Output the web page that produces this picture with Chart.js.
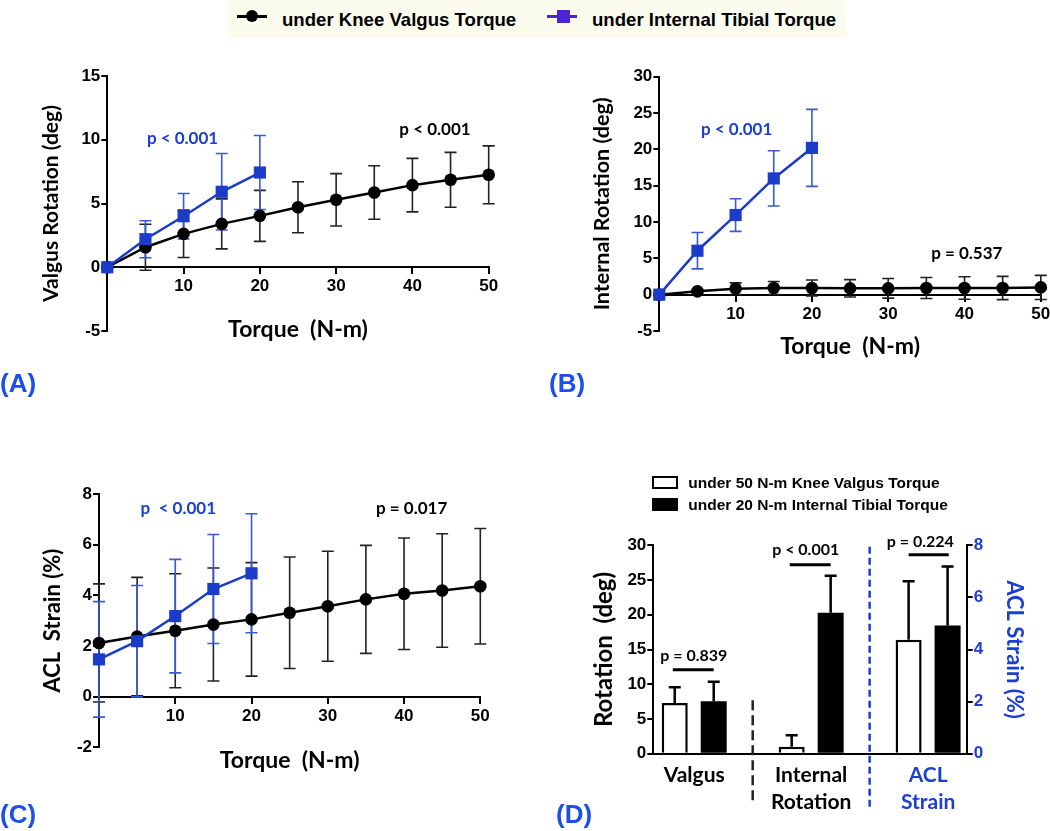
<!DOCTYPE html>
<html>
<head>
<meta charset="utf-8">
<script src="https://cdn.jsdelivr.net/npm/chart.js@4.4.1/dist/chart.umd.min.js"></script>
<style>
  body { margin: 0; background: #fff; }
  #page { position: relative; width: 1050px; height: 831px; overflow: hidden; }
  #page canvas { position: absolute; left: 0; top: 0; }
  .tag { position: absolute; font: bold 26px "Liberation Sans", Arial, sans-serif; line-height: 26px; color: #1a4fec; }
  .lg { position: absolute; font: bold 18.6px "Liberation Sans", Arial, sans-serif; line-height: 18px; color: #000; white-space: pre; }
  .lgD { position: absolute; font: bold 15.5px "Liberation Sans", Arial, sans-serif; line-height: 15px; color: #000; white-space: pre; }
  .blk { position: absolute; }
</style>
</head>
<body>
<div id="page">
  <canvas id="cA" width="1100" height="831"></canvas>
  <canvas id="cB" width="1100" height="831"></canvas>
  <canvas id="cC" width="1100" height="831"></canvas>
  <canvas id="cD" width="1100" height="831"></canvas>

  <!-- top legend -->
  <div class="blk" style="left:228px;top:0;width:618px;height:38px;background:#fbfbee;"></div>
  <div class="blk" style="left:237px;top:14.5px;width:30px;height:3px;background:#000;"></div>
  <div class="blk" style="left:245.7px;top:10px;width:12px;height:12px;border-radius:50%;background:#000;"></div>
  <div class="lg" style="left:282px;top:10.5px;">under Knee Valgus Torque</div>
  <div class="blk" style="left:547px;top:14.5px;width:30px;height:3px;background:#4b24d4;"></div>
  <div class="blk" style="left:557px;top:9.5px;width:13px;height:13px;background:#4b24d4;"></div>
  <div class="lg" style="left:592px;top:10.5px;">under Internal Tibial Torque</div>

  <!-- panel D legend -->
  <div class="blk" style="left:652px;top:476px;width:26px;height:12.5px;border:2.5px solid #000;box-sizing:border-box;background:#fff;"></div>
  <div class="lgD" style="left:688.3px;top:475.2px;">under 50 N-m Knee Valgus Torque</div>
  <div class="blk" style="left:652px;top:498px;width:26px;height:13px;background:#000;"></div>
  <div class="lgD" style="left:688.3px;top:496.9px;">under 20 N-m Internal Tibial Torque</div>

  <!-- panel tags -->
  <div class="tag" style="left:0;top:369.5px;">(A)</div>
  <div class="tag" style="left:549px;top:369.5px;">(B)</div>
  <div class="tag" style="left:0;top:800.8px;">(C)</div>
  <div class="tag" style="left:556px;top:800.8px;">(D)</div>
</div>
<script>
// ---- data ----
const torqueKV = [0, 5, 10, 15, 20, 25, 30, 35, 40, 45, 50];  // N-m, knee valgus loading
const torqueIT = [0, 5, 10, 15, 20];                           // N-m, internal tibial loading

// (A) valgus rotation (deg)
const valgusUnderKV   = [0, 1.57, 2.62, 3.40, 4.03, 4.71, 5.29, 5.86, 6.44, 6.86, 7.25];
const valgusUnderKVsd = [0, 1.80, 1.86, 1.96, 2.00, 2.00, 2.05, 2.10, 2.10, 2.15, 2.27];
const valgusUnderIT   = [0, 2.20, 4.00, 5.92, 7.43];
const valgusUnderITsd = [0, 1.45, 1.78, 3.00, 2.90];

// (B) internal rotation (deg)
const internalUnderKV   = [0, 0.46, 0.83, 0.92, 0.92, 0.87, 0.87, 0.92, 0.92, 0.92, 1.00];
const internalUnderKVsd = [0, 0.20, 0.80, 0.90, 1.10, 1.20, 1.35, 1.45, 1.55, 1.60, 1.66];
const internalUnderIT   = [0, 6.05, 10.96, 16.00, 20.20];
const internalUnderITsd = [0, 2.50, 2.25, 3.80, 5.30];

// (C) ACL strain (%)
const aclUnderKV   = [2.12, 2.37, 2.60, 2.85, 3.05, 3.31, 3.57, 3.84, 4.06, 4.19, 4.36];
const aclUnderKVsd = [2.33, 2.34, 2.25, 2.23, 2.24, 2.20, 2.17, 2.13, 2.20, 2.24, 2.28];
const aclUnderIT   = [1.47, 2.19, 3.18, 4.25, 4.87];
const aclUnderITsd = [2.28, 2.20, 2.24, 2.15, 2.35];

// (D) peak values: [valgus, internal rotation] in deg, ACL strain in %
const groupLabels = [['Valgus'], ['Internal', 'Rotation'], ['ACL', 'Strain']];
const kv50Rotation   = [7.30, 1.00];
const kv50RotationSd = [2.25, 1.64];
const it20Rotation   = [7.54, 20.30];
const it20RotationSd = [2.83, 5.30];
const kv50Acl = [4.37], kv50AclSd = [2.25];
const it20Acl = [4.92], it20AclSd = [2.27];
const pValuesD = ['p = 0.839', 'p < 0.001', 'p = 0.224'];

// ---- styles ----
const BLACK = '#000';
const BLUE = '#1a3cc9';
const BLUE_ERR = '#3a5ad4';
const TEXT_BLUE = '#1a3fd2';
const TICK_FONT = { family: '"Liberation Sans", Arial, sans-serif', weight: 'bold', size: 17, lineHeight: 1.2 };
const NOTE_FONT = 'bold 17px Lato';

function titleFont(size) {
    return { family: 'Lato', weight: 'bold', size: size, lineHeight: 1.2 };
}

function pts(xs, ys) {
    return xs.map((x, i) => ({ x: x, y: ys[i] }));
}

/**
 * Draws +/- error bars under the markers of every dataset that has an "errors" array
 */
const errorBars = {
    id: "errorBars",
    beforeDatasetsDraw(chart) {
        const ctx = chart.ctx;
        chart.data.datasets.forEach((ds, i) => {
            if (!ds.errors) return;
            const meta = chart.getDatasetMeta(i);
            const yScale = chart.scales[meta.yAxisID];
            ctx.save();
            ctx.strokeStyle = ds.errorColor || BLACK;
            ctx.lineWidth = ds.errorWidth || 1.5;
            meta.data.forEach((el, j) => {
                const v = ds.data[j].y;
                const e = ds.errors[j];
                if (!e) return;
                const top = yScale.getPixelForValue(v + e);
                const bottom = ds.errorUpOnly ? el.y : yScale.getPixelForValue(v - e);
                const w = ds.capHalf || 6;
                ctx.beginPath();
                ctx.moveTo(el.x, top);
                ctx.lineTo(el.x, bottom);
                ctx.moveTo(el.x - w, top);
                ctx.lineTo(el.x + w, top);
                if (!ds.errorUpOnly) {
                    ctx.moveTo(el.x - w, bottom);
                    ctx.lineTo(el.x + w, bottom);
                }
                ctx.stroke();
            });
            ctx.restore();
        });
    },
};

/**
 * p-value labels, significance brackets and dashed separators, placed in axis units
 */
const notes = {
    id: "notes",
    afterDatasetsDraw(chart, args, opts) {
        const ctx = chart.ctx;
        const xs = chart.scales.x;
        const ys = chart.scales.y;
        (opts.dashed || []).forEach((d) => {
            ctx.save();
            ctx.strokeStyle = d.color;
            ctx.lineWidth = 2.5;
            ctx.setLineDash(d.dash);
            ctx.beginPath();
            ctx.moveTo(xs.getPixelForValue(d.x), ys.getPixelForValue(d.y1));
            ctx.lineTo(xs.getPixelForValue(d.x), ys.getPixelForValue(d.y2));
            ctx.stroke();
            ctx.restore();
        });
        (opts.lines || []).forEach((l) => {
            ctx.save();
            ctx.strokeStyle = BLACK;
            ctx.lineWidth = 3;
            ctx.beginPath();
            ctx.moveTo(xs.getPixelForValue(l.x1), ys.getPixelForValue(l.y));
            ctx.lineTo(xs.getPixelForValue(l.x2), ys.getPixelForValue(l.y));
            ctx.stroke();
            ctx.restore();
        });
        (opts.texts || []).forEach((t) => {
            ctx.save();
            ctx.font = opts.font || NOTE_FONT;
            ctx.fillStyle = t.color;
            ctx.textAlign = "center";
            ctx.textBaseline = "middle";
            ctx.fillText(t.text, xs.getPixelForValue(t.x), ys.getPixelForValue(t.y));
            ctx.restore();
        });
    },
};

function kvSet(ys, sd) {
    return {
        data: pts(torqueKV, ys), errors: sd, errorColor: '#222', errorWidth: 1.6,
        borderColor: BLACK, backgroundColor: BLACK, borderWidth: 2.5,
        pointStyle: 'circle', pointRadius: 6.3, pointBorderWidth: 0, order: 1, clip: false,
    };
}

function itSet(ys, sd) {
    return {
        data: pts(torqueIT, ys), errors: sd, errorColor: BLUE_ERR, errorWidth: 1.6,
        borderColor: BLUE, backgroundColor: BLUE, borderWidth: 2.5,
        pointStyle: 'rect', pointRadius: 8.6, pointBorderWidth: 0, order: 0, clip: false,
    };
}

function yAxis(min, max, step, title, titleSize, width) {
    return {
        min: min, max: max,
        ticks: { stepSize: step, color: BLACK, font: TICK_FONT, padding: 1 },
        grid: { drawOnChartArea: false, drawTicks: true, tickLength: 6, color: BLACK, lineWidth: 2 },
        border: { display: true, color: BLACK, width: 2 },
        title: { display: true, text: title, color: BLACK, font: titleFont(titleSize), padding: 0 },
        afterFit: (s) => { s.width = width; },
    };
}

// x axis crosses at y = 0; it takes no layout room, its title sits below the plot
function xAxis(titlePadBottom) {
    return {
        type: 'linear', min: 0, max: 50, position: { y: 0 },
        ticks: { stepSize: 10, color: BLACK, font: TICK_FONT, padding: 3, callback: (v) => (v === 0 ? '' : v) },
        grid: { drawOnChartArea: false, drawTicks: true, tickLength: 6, color: BLACK, lineWidth: 2 },
        border: { display: true, color: BLACK, width: 2 },
        title: { display: true, text: 'Torque  (N-m)', color: BLACK, font: titleFont(23), padding: { top: 0, bottom: titlePadBottom } },
        afterFit: (s) => { s.height = 80; },
    };
}

function lineChart(id, sets, yOpts, xPad, padding, texts) {
    return new Chart(document.getElementById(id), {
        type: 'line',
        data: { datasets: sets },
        options: {
            responsive: false, animation: false,
            layout: { padding: padding },
            scales: { x: xAxis(xPad), y: yOpts },
            plugins: { legend: { display: false }, tooltip: { enabled: false }, notes: { texts: texts } },
        },
        plugins: [errorBars, notes],
    });
}

function build() {
    // (A)
    lineChart('cA',
        [kvSet(valgusUnderKV, valgusUnderKVsd), itSet(valgusUnderIT, valgusUnderITsd)],
        yAxis(-5, 15, 5, 'Valgus Rotation (deg)', 21, 68.2), 3.5,
        { left: 39.1, top: 76, right: 611.3, bottom: 500 },
        [{ x: 9.86, y: 10.1, text: 'p < 0.001', color: TEXT_BLUE }, { x: 42.96, y: 10.77, text: 'p < 0.001', color: BLACK }]);

    // (B)
    lineChart('cB',
        [kvSet(internalUnderKV, internalUnderKVsd), itSet(internalUnderIT, internalUnderITsd)],
        yAxis(-5, 30, 5, 'Internal Rotation (deg)', 21.5, 69.7), 14.2,
        { left: 589.6, top: 76.7, right: 59.2, bottom: 500 },
        [{ x: 10.14, y: 22.75, text: 'p < 0.001', color: TEXT_BLUE }, { x: 40.3, y: 5.69, text: 'p = 0.537', color: BLACK }]);

    // (C)
    lineChart('cC',
        [kvSet(aclUnderKV, aclUnderKVsd), itSet(aclUnderIT, aclUnderITsd)],
        yAxis(-2, 8, 2, 'ACL  Strain (%)', 22, 59.7), 2.2,
        { left: 39.3, top: 494, right: 619.7, bottom: 83.7 },
        [{ x: 10.4, y: 7.41, text: 'p  < 0.001', color: TEXT_BLUE }, { x: 41.0, y: 7.41, text: 'p = 0.017', color: BLACK }]);

    // (D) bars: open = 50 N-m knee valgus, filled = 20 N-m internal tibial
    const openBar = { backgroundColor: '#fff', borderColor: BLACK, borderWidth: 2.5, errorUpOnly: true, errorWidth: 2.5, capHalf: 6 };
    const fullBar = { backgroundColor: BLACK, borderColor: BLACK, borderWidth: 0, errorUpOnly: true, errorWidth: 2.5, capHalf: 6 };
    new Chart(document.getElementById('cD'), {
        type: 'bar',
        data: {
            datasets: [
                Object.assign({ label: 'under 50 N-m Knee Valgus Torque', data: pts([0, 3], kv50Rotation), errors: kv50RotationSd, yAxisID: 'y' }, openBar),
                Object.assign({ label: 'under 20 N-m Internal Tibial Torque', data: pts([1, 4], it20Rotation), errors: it20RotationSd, yAxisID: 'y' }, fullBar),
                Object.assign({ label: 'under 50 N-m Knee Valgus Torque', data: pts([6], kv50Acl), errors: kv50AclSd, yAxisID: 'y2' }, openBar),
                Object.assign({ label: 'under 20 N-m Internal Tibial Torque', data: pts([7], it20Acl), errors: it20AclSd, yAxisID: 'y2' }, fullBar),
            ],
        },
        options: {
            responsive: false, animation: false,
            layout: { padding: { left: 589.6, top: 545.3, right: 72.8, bottom: 7.3 } },
            datasets: { bar: { grouped: false, barPercentage: 1, categoryPercentage: 0.667 } },
            scales: {
                x: {
                    type: 'linear', min: -0.55, max: 7.49, offset: false, position: 'bottom',
                    afterBuildTicks: (s) => { s.ticks = [0.5, 3.5, 6.5].map((v) => ({ value: v })); },
                    ticks: {
                        autoSkip: false, maxRotation: 0, padding: 7.8,
                        font: { family: 'Lato', weight: 'bold', size: 21, lineHeight: 1.29 },
                        color: (c) => (c.index === 2 ? TEXT_BLUE : BLACK),
                        callback: (v, i) => groupLabels[i],
                    },
                    grid: { display: false, drawTicks: false, offset: false },
                    border: { display: true, color: BLACK, width: 2 },
                    afterFit: (s) => { s.height = 70; },
                },
                y: yAxis(0, 30, 5, 'Rotation  (deg)', 24, 63.7),
                y2: {
                    position: 'right', min: 0, max: 8,
                    ticks: { stepSize: 2, color: TEXT_BLUE, font: TICK_FONT, padding: 1 },
                    grid: { drawOnChartArea: false, drawTicks: true, tickLength: 6, color: BLACK, lineWidth: 2 },
                    border: { display: true, color: BLACK, width: 2 },
                    title: { display: true, text: 'ACL Strain (%)', color: TEXT_BLUE, font: titleFont(22), padding: 0 },
                    afterFit: (s) => { s.width = 60.5; },
                },
            },
            plugins: {
                legend: { display: false }, tooltip: { enabled: false },
                notes: {
                    font: 'bold 16px Lato',
                    dashed: [
                        { x: 2, y1: 7.7, y2: -7.4, color: '#222', dash: [10, 5] },
                        { x: 5, y1: 29.8, y2: -7.8, color: TEXT_BLUE, dash: [7, 4] },
                    ],
                    lines: [
                        { x1: -0.05, x2: 1, y: 12.1 },
                        { x1: 2.95, x2: 4, y: 27.2 },
                        { x1: 6, x2: 7.03, y: 28.65 },
                    ],
                    texts: [
                        { x: 0.49, y: 14.06, text: pValuesD[0], color: BLACK },
                        { x: 3.36, y: 29.4, text: pValuesD[1], color: BLACK },
                        { x: 6.3, y: 30.5, text: pValuesD[2], color: BLACK },
                    ],
                },
            },
        },
        plugins: [errorBars, notes],
    });
}

Promise.all([
    document.fonts.load('bold 22px Lato'),
    document.fonts.load('bold 17px "Liberation Sans"'),
]).then(build, build);
</script>
</body>
</html>
